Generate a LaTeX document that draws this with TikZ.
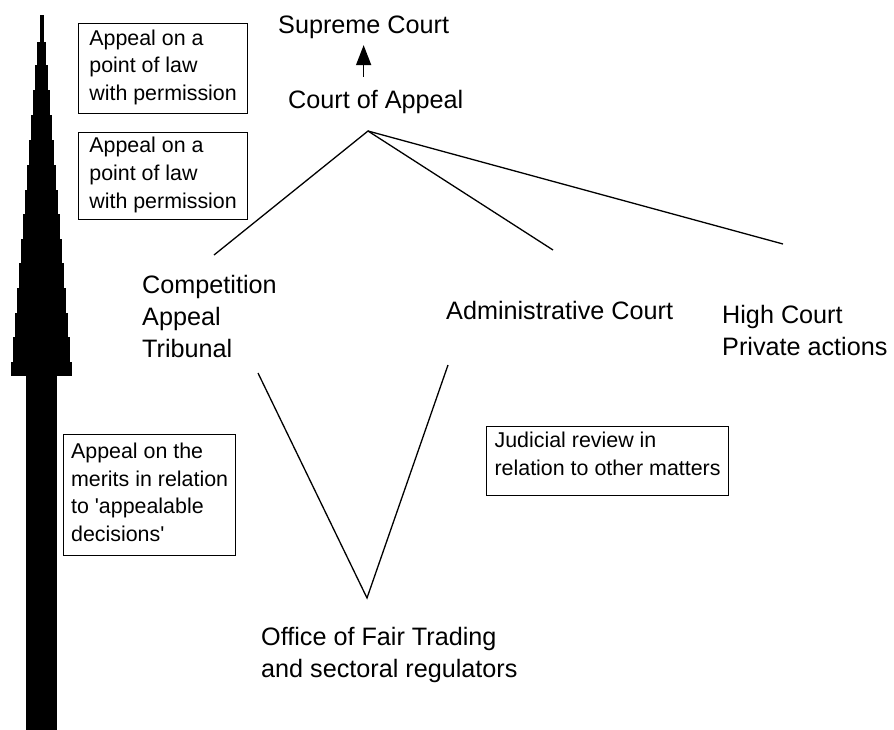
\documentclass[tikz,border=0pt]{standalone}
\usepackage{fontspec}
\newfontfamily\drawfont{Liberation Sans}
\usetikzlibrary{arrows.meta}
\begin{document}
\begin{tikzpicture}[x=1pt,y=-1pt,
  courtlabel/.style={inner sep=0pt, anchor=base west, align=left,
    font=\drawfont\fontsize{25.2}{32}\selectfont},
  notebox/.style={draw=black, line width=1.2pt, inner xsep=0pt, inner ysep=0pt,
    align=left, anchor=north west, font=\drawfont\fontsize{21.4}{27.7}\selectfont},
  link/.style={draw=black, line width=1.3pt},
  uparrow/.style={draw=black, line width=1.6pt, -{Triangle[length=20pt,width=15pt]}},
]
\fill[white] (0,0) rectangle (894,729);
\useasboundingbox (0,0) rectangle (894,729);

% stepped upward arrow along the left edge
\foreach \ya/\yb/\hw in {15/42/2.0, 42/65/4.2, 65/90/6.6, 90/115/8.5,
    115/140/10.7, 140/165/12.5, 165/190/14.3, 190/214/16.3, 214/239/18.3,
    239/263/20.5, 263/288/22.3, 288/313/24.3, 313/337/26.3, 337/362/28.3,
    362/375/30.2, 375/729/15.8}
  \fill[black] ({41.5-\hw},\ya) rectangle ({41.5+\hw},{\yb+0.5});

% courts (multi-line labels are placed by the baseline of their last line)
\node[courtlabel] (sc)  at (278,33)  {Supreme Court};
\node[courtlabel] (coa) at (288,108) {Court of Appeal};
\node[courtlabel] (cat) at (142,357) {Competition\\Appeal\\Tribunal};
\node[courtlabel] (adm) at (446,319) {Administrative Court};
\node[courtlabel] (hc)  at (722,355) {High Court\\Private actions};
\node[courtlabel] (oft) at (261,677) {Office of Fair Trading\\and sectoral regulators};

% explanatory boxes
\node[notebox, minimum width=169pt, text height=77pt, text depth=13pt] (n1) at (78,23)
  {Appeal on a\\point of law\\with permission};
\node[notebox, minimum width=169pt, text height=75.4pt, text depth=11.6pt] (n2) at (78,132)
  {Appeal on a\\point of law\\with permission};
\node[notebox, minimum width=172pt, text height=107pt, text depth=14pt] (n3) at (63,434)
  {Appeal on the\\merits in relation\\to 'appealable\\decisions'};
\node[notebox, minimum width=242pt, text height=48.7pt, text depth=20.3pt] (n4) at (486,426)
  {Judicial review in\\relation to other matters};

% appeal routes
\draw[uparrow, shorten <=12.6pt, shorten >=6.7pt] (coa.north -| sc.south) -- (sc.south);

\coordinate (coaFoot) at (368,131);
\coordinate (catTop)  at (214,255);
\coordinate (admTop)  at (553,250);
\coordinate (hcTop)   at (783,244);
\coordinate (catFoot) at (258,373);
\coordinate (admFoot) at (448,365);
\coordinate (oftTop)  at (367,598);

\draw[link] (catTop) -- (coaFoot) -- (admTop);
\draw[link] (coaFoot) -- (hcTop);
\draw[link] (catFoot) -- (oftTop) -- (admFoot);
\end{tikzpicture}
\end{document}
